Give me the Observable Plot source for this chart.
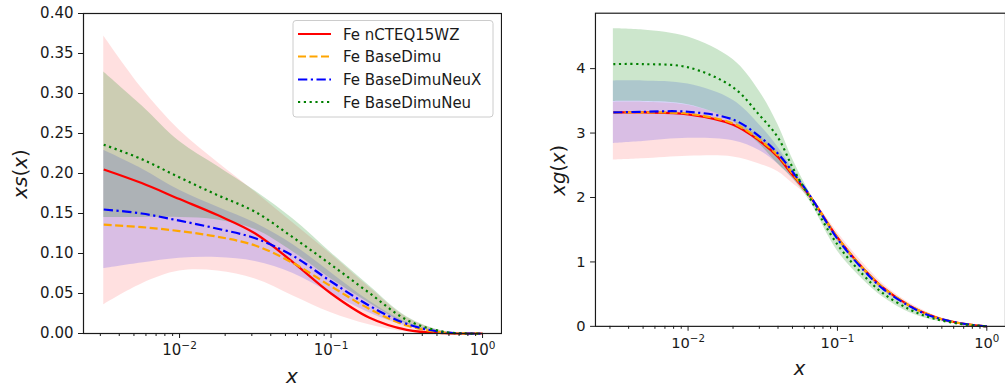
<!DOCTYPE html>
<html><head><meta charset="utf-8">
<script src="https://cdn.jsdelivr.net/npm/d3@7"></script>
<script src="https://cdn.jsdelivr.net/npm/@observablehq/plot@0.6"></script>
<style>
html,body{margin:0;padding:0;background:#fff;overflow:hidden;}
#wrap{position:relative;width:1005px;height:388px;overflow:hidden;background:#fff;}
#left,#right{position:absolute;top:0;}
#left{left:0;} #right{left:502px;}
svg text{font-family:"DejaVu Sans",sans-serif;}
</style></head><body>
<div id="wrap"><div id="left"></div><div id="right"></div></div>
<script>
// ---------- data ----------
const seriesNames = ["Fe nCTEQ15WZ", "Fe BaseDimu", "Fe BaseDimuNeuX", "Fe BaseDimuNeu"];
const seriesColors = ["red", "orange", "blue", "green"];

// left panel: xs(x)
const xS = [0.00316, 0.00562, 0.01, 0.0178, 0.0316, 0.0562, 0.1, 0.178, 0.316, 0.562, 1.0];
const sRed    = [0.205, 0.188, 0.168, 0.148, 0.125, 0.089, 0.050, 0.020, 0.0045, 0.0003, 0];
const sOrange = [0.136, 0.133, 0.128, 0.121, 0.110, 0.088, 0.059, 0.031, 0.010, 0.0012, 0];
const sBlue   = [0.155, 0.150, 0.141, 0.131, 0.119, 0.097, 0.065, 0.035, 0.012, 0.0014, 0];
const sGreen  = [0.236, 0.218, 0.195, 0.173, 0.152, 0.120, 0.086, 0.051, 0.017, 0.002, 0];
const sRedLo   = [0.036, 0.062, 0.078, 0.078, 0.068, 0.047, 0.026, 0.011, 0.002, 0.0002, 0];
const sRedHi   = [0.372, 0.307, 0.254, 0.214, 0.177, 0.138, 0.099, 0.058, 0.020, 0.0025, 0];
const sBlueLo  = [0.081, 0.088, 0.094, 0.095, 0.090, 0.075, 0.050, 0.026, 0.009, 0.001, 0];
const sBlueHi  = [0.229, 0.206, 0.179, 0.158, 0.138, 0.111, 0.076, 0.041, 0.014, 0.0015, 0];
const sGreenLo = [0.145, 0.145, 0.145, 0.142, 0.130, 0.102, 0.068, 0.038, 0.012, 0.0013, 0];
const sGreenHi = [0.327, 0.285, 0.240, 0.209, 0.178, 0.143, 0.101, 0.060, 0.021, 0.0025, 0];

// right panel: xg(x)
const xG = [0.00316, 0.005, 0.01, 0.02, 0.03, 0.04, 0.05, 0.065, 0.1, 0.15, 0.2, 0.3, 0.4, 0.5, 0.7, 1.0];
const gRed    = [3.32, 3.32, 3.29, 3.13, 2.88, 2.63, 2.35, 2.03, 1.38, 0.89, 0.61, 0.33, 0.19, 0.11, 0.04, 0];
const gOrange = [3.32, 3.32, 3.30, 3.15, 2.90, 2.65, 2.37, 2.03, 1.38, 0.89, 0.61, 0.33, 0.19, 0.11, 0.04, 0];
const gBlue   = [3.32, 3.33, 3.33, 3.21, 2.95, 2.68, 2.40, 2.04, 1.36, 0.87, 0.59, 0.32, 0.18, 0.11, 0.04, 0];
const gGreen  = [4.07, 4.07, 4.02, 3.71, 3.28, 2.93, 2.47, 2.00, 1.27, 0.79, 0.52, 0.27, 0.15, 0.09, 0.03, 0];
const gRedLo   = [2.58, 2.60, 2.64, 2.63, 2.52, 2.40, 2.22, 1.99, 1.33, 0.85, 0.57, 0.30, 0.17, 0.10, 0.035, 0];
const gRedHi   = [3.48, 3.48, 3.43, 3.20, 2.95, 2.72, 2.42, 2.07, 1.46, 0.97, 0.67, 0.37, 0.22, 0.13, 0.05, 0];
const gBlueLo  = [2.84, 2.87, 2.92, 2.88, 2.73, 2.52, 2.30, 2.00, 1.33, 0.85, 0.57, 0.30, 0.17, 0.10, 0.035, 0];
const gBlueHi  = [3.81, 3.81, 3.76, 3.51, 3.13, 2.78, 2.45, 2.07, 1.40, 0.90, 0.61, 0.34, 0.19, 0.12, 0.045, 0];
const gGreenLo = [3.49, 3.49, 3.44, 3.18, 2.83, 2.52, 2.30, 1.95, 1.17, 0.71, 0.46, 0.22, 0.12, 0.07, 0.02, 0];
const gGreenHi = [4.62, 4.60, 4.49, 4.14, 3.65, 3.13, 2.60, 2.08, 1.38, 0.88, 0.58, 0.31, 0.18, 0.11, 0.04, 0];

const yTicksS = [0, 0.05, 0.10, 0.15, 0.20, 0.25, 0.30, 0.35, 0.40];
const yTicksG = [0, 1, 2, 3, 4];
const xMajor = [0.01, 0.1, 1];
const xMinor = [0.003,0.004,0.005,0.006,0.007,0.008,0.009,0.02,0.03,0.04,0.05,0.06,0.07,0.08,0.09,0.2,0.3,0.4,0.5,0.6,0.7,0.8,0.9];

// ---------- helpers ----------
const lineRows = (xs, ys) => xs.map((x, i) => ({x, y: ys[i]}));
const bandRows = (xs, lo, hi) => xs.map((x, i) => ({x, lo: lo[i], hi: hi[i]}));
const dashes = [null, "8,3.5", "9.3,3.5,2.2,3.5", "2.2,3.6"];
const NS = "http://www.w3.org/2000/svg";
const INK = "#1a1a1a";

function panel(opt) {
  const bandSpecs = [
    {lo: opt.lo[0], hi: opt.hi[0], color: "red", a: 0.12},
    {lo: opt.lo[1], hi: opt.hi[1], color: "blue", a: 0.15},
    {lo: opt.lo[2], hi: opt.hi[2], color: "green", a: 0.2}
  ];
  return Plot.plot({
    width: opt.width, height: 388,
    marginLeft: opt.marginLeft, marginRight: opt.marginRight, marginTop: 13, marginBottom: 55,
    style: {fontFamily: "DejaVu Sans", fontSize: "15px", color: INK, background: "white", overflow: "visible"},
    x: {type: "log", domain: opt.xDomain, label: null},
    y: {domain: opt.yDomain, label: null},
    marks: [
      ...bandSpecs.map(b => Plot.areaY(bandRows(opt.xs, b.lo, b.hi), {x: "x", y1: "lo", y2: "hi", fill: b.color, fillOpacity: b.a, curve: "catmull-rom"})),
      ...opt.lines.map((ys, i) => Plot.line(lineRows(opt.xs, ys), {x: "x", y: "y", stroke: seriesColors[i], strokeWidth: 2.2, strokeDasharray: dashes[i], strokeLinecap: "butt", curve: "catmull-rom"})),
      Plot.frame({stroke: INK, strokeWidth: 1.2}),
      Plot.axisY({ticks: opt.yTicks, tickSize: 5, tickPadding: 5, tickFormat: opt.yFormat, label: null}),
      Plot.axisX({ticks: xMinor.filter(v => v > opt.xDomain[0]), tickSize: 3, tickFormat: () => "", label: null}),
      Plot.axisX({ticks: xMajor, tickSize: 5, tickPadding: 6, tickFormat: d => "10^" + Math.round(Math.log10(d)), label: null})
    ]
  });
}

function fixSuperscripts(svg) {
  svg.querySelectorAll("text").forEach(t => {
    const s = t.textContent;
    if (s.startsWith("10^")) {
      const e = s.slice(3).replace("-", "\u2212");
      t.textContent = "10";
      const ts = document.createElementNS(NS, "tspan");
      ts.setAttribute("dy", "-6");
      ts.setAttribute("font-size", "10.5");
      ts.textContent = e;
      t.appendChild(ts);
    }
  });
}

function mathLabel(svg, x, y, rotate, parts) {
  const t = document.createElementNS(NS, "text");
  t.setAttribute("transform", `translate(${x},${y})` + (rotate ? " rotate(-90)" : ""));
  t.setAttribute("text-anchor", "middle");
  t.setAttribute("font-size", "20");
  t.setAttribute("fill", INK);
  t.setAttribute("font-family", "DejaVu Sans");
  parts.forEach(([txt, italic]) => {
    const ts = document.createElementNS(NS, "tspan");
    if (italic) ts.setAttribute("font-style", "italic");
    ts.textContent = txt;
    t.appendChild(ts);
  });
  svg.appendChild(t);
}

// ---------- left ----------
const left = panel({
  width: 502, marginLeft: 83, marginRight: 1,
  xDomain: [Math.pow(10, -2.634), Math.pow(10, 0.125)], yDomain: [0, 0.4],
  xs: xS, yTicks: yTicksS, yFormat: d3.format(".2f"),
  lines: [sRed, sOrange, sBlue, sGreen],
  lo: [sRedLo, sBlueLo, sGreenLo], hi: [sRedHi, sBlueHi, sGreenHi]
});
fixSuperscripts(left);
mathLabel(left, 26.5, 174, true, [["xs", true], ["(", false], ["x", true], [")", false]]);
mathLabel(left, 292, 383, false, [["x", true]]);

// legend
const lg = d3.select(left).append("g").attr("text-anchor", "start");
lg.append("rect").attr("x", 293).attr("y", 20.5).attr("width", 200).attr("height", 96.5)
  .attr("rx", 3).attr("fill", "white").attr("fill-opacity", 0.8).attr("stroke", "#cccccc").attr("stroke-width", 1);
const rowY = [34, 56.5, 79.5, 102];
seriesNames.forEach((name, i) => {
  lg.append("line").attr("x1", 298).attr("x2", 331).attr("y1", rowY[i]).attr("y2", rowY[i])
    .attr("stroke", seriesColors[i]).attr("stroke-width", 2.2).attr("stroke-dasharray", dashes[i]);
  lg.append("text").attr("x", 343).attr("y", rowY[i] + 5.5).attr("font-size", 15).attr("fill", INK)
    .attr("text-anchor", "start").attr("font-family", "DejaVu Sans").text(name);
});
document.getElementById("left").appendChild(left);

// ---------- right ----------
const right = panel({
  width: 514, marginLeft: 95, marginRight: 0,
  xDomain: [Math.pow(10, -2.62), Math.pow(10, 0.125)], yDomain: [0, 4.86],
  xs: xG, yTicks: yTicksG, yFormat: d3.format("d"),
  lines: [gRed, gOrange, gBlue, gGreen],
  lo: [gRedLo, gBlueLo, gGreenLo], hi: [gRedHi, gBlueHi, gGreenHi]
});
fixSuperscripts(right);
mathLabel(right, 566 - 502, 174, true, [["xg", true], ["(", false], ["x", true], [")", false]]);
mathLabel(right, 806 - 502, 383, false, [["x", true]]);
document.getElementById("right").appendChild(right);
</script></body></html>
